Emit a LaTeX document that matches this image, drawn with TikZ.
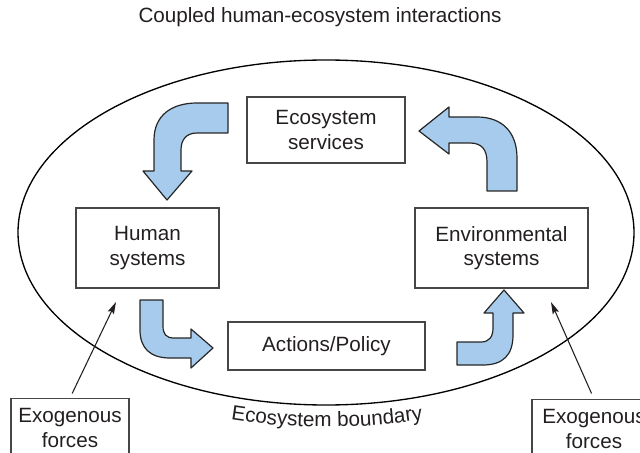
\documentclass[tikz,border=0pt]{standalone}
\usepackage{fontspec}
\setmainfont{Liberation Sans}
\usetikzlibrary{arrows.meta,decorations.text,calc}
\definecolor{arrowblue}{RGB}{167,203,236}
\definecolor{txt}{RGB}{35,31,32}
\definecolor{boxline}{RGB}{70,70,70}
\begin{document}
\begin{tikzpicture}[x=0.75pt,y=0.75pt,
  execute at begin picture={\fontsize{15.5}{18.5}\selectfont},
  every node/.style={text=txt, font=\fontsize{15.5}{18.5}\selectfont},
  sysbox/.style={draw=boxline, line width=1.3pt, align=center, inner sep=0pt},
  exobox/.style={draw=boxline, line width=1.1pt, align=center, inner xsep=0pt, inner ysep=7.3pt, text depth=15pt},
  blockarrow/.style={fill=arrowblue, draw=black!85, line width=0.9pt, line join=round},
  exoarrow/.style={draw=txt, line width=0.8pt, -{Stealth[length=9pt,width=5pt,inset=1.5pt]}},
  boundary/.style={draw=black, line width=1pt}]
\clip (0,0) rectangle (640,-453);

% boundary ellipse
\draw[boundary] (326,-232.5) ellipse [x radius=231pt, y radius=129.375pt];
\path[decorate, decoration={text along path, text={|\color{txt}|Ecosystem boundary}, text align=center}]
  ($(327,-232.5)+(240:262.5pt and 145.875pt)$) arc[start angle=240, end angle=300, x radius=262.5pt, y radius=145.875pt];

% title
\node (title) at (320,-17) {Coupled human-ecosystem interactions};

% system boxes
\node[sysbox, minimum width=118.5pt, minimum height=49.5pt] (services) at (326,-130) {Ecosystem\\services};
\node[sysbox, minimum width=107.25pt, minimum height=60pt] (human) at (147.5,-248) {Human\\systems};
\node[sysbox, minimum width=129.75pt, minimum height=60pt] (env) at (501.5,-248) {Environmental\\systems};
\node[sysbox, minimum width=147.75pt, minimum height=36pt] (actions) at (326.5,-346) {Actions/Policy};

% exogenous forces
\node[exobox, anchor=north, minimum width=88.5pt] (exoL) at (70,-398) {Exogenous\\forces};
\node[exobox, anchor=north, minimum width=93pt] (exoR) at (594,-399) {Exogenous\\forces};
\coordinate (tipL) at (116,-302);
\coordinate (tipR) at (551,-302);
\draw[exoarrow, shorten <=3.75pt] (exoL.north) -- (tipL);
\draw[exoarrow, shorten <=4.5pt] (exoR.north) -- (tipR);

% block arrows
% services -> human
\draw[blockarrow] (228,-103) -- (197,-103) .. controls (172,-103) and (154,-115) .. (154,-140)
  -- (154,-171) -- (143,-171) -- (167,-200) -- (192,-171) -- (181,-171) -- (181,-150)
  .. controls (181,-140) and (186,-133) .. (197,-133) -- (228,-133) -- cycle;
% environmental -> services
\draw[blockarrow] (449,-117) -- (477,-117) .. controls (502,-117) and (517,-132) .. (517,-158)
  -- (517,-191) -- (487,-191) -- (487,-162) .. controls (487,-150) and (482,-143) .. (470,-143)
  -- (449,-143) -- (449,-154) -- (419,-131) -- (449,-107) -- cycle;
% human -> actions
\draw[blockarrow] (140,-300) -- (163,-300) -- (163,-326) .. controls (163,-334) and (166,-338) .. (174,-338)
  -- (191,-338) -- (191,-329) -- (213,-348) -- (191,-368) -- (191,-358) -- (170,-358)
  .. controls (150,-358) and (140,-348) .. (140,-330) -- cycle;
% actions -> environmental
\draw[blockarrow] (457,-342) -- (481,-342) .. controls (489,-342) and (493,-337) .. (493,-328)
  -- (493,-313) -- (484,-313) -- (504,-290) -- (524,-313) -- (513,-313) -- (513,-335)
  .. controls (513,-355) and (503,-365) .. (483,-365) -- (457,-365) -- cycle;
\end{tikzpicture}
\end{document}
